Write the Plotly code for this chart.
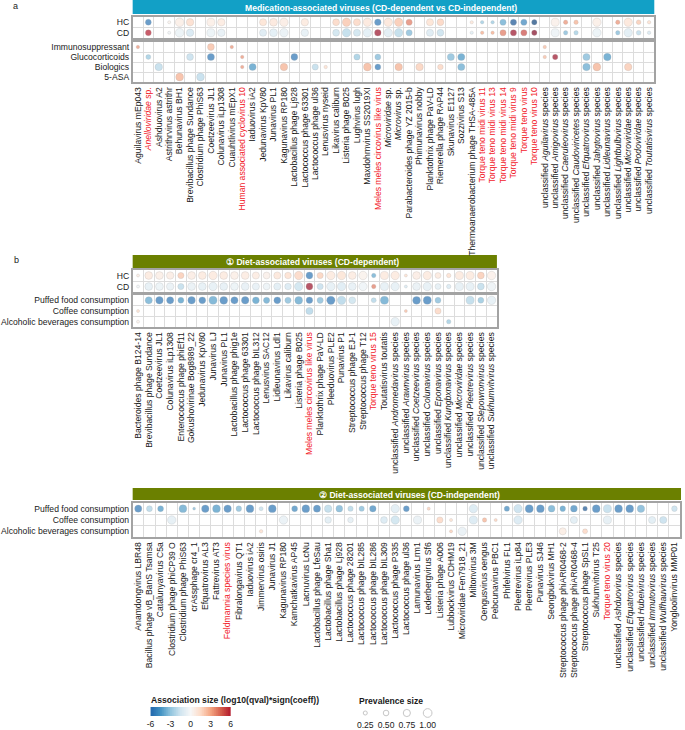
import numpy as np
import plotly.graph_objects as go

_ = None
W, H = 685, 730
FONT = "Liberation Sans, Arial, Helvetica, sans-serif"
TXT = "#1a1a1a"
RED = "#f2222b"
GRID = "#dcdcdc"
BORDER = "#a3a3a3"
TEAL = "#12a0c6"
OLIVE = "#6b8000"
FS = 8.6

# ---------------- Panel a : medication-associated viruses ----------------
a_viruses = [
    "Aguilavirus mEp043", "<i>Anelloviridae</i> sp.", "Ashduovirus A2", "Astrithrvirus astrithr", "Behunavirus BH1",
    "Brevibacillus phage Sundance", "Clostridium phage PhiS63", "Coetzeevirus JL1", "Colunavirus iLp1308", "Cuauhtlivirus mEpX1",
    "Human associated cyclovirus 10", "Iaduovirus iA2", "Jedunavirus KpV80", "Junavirus PL1", "Kagunavirus RP180",
    "Lactobacillus phage Lj928", "Lactococcus phage 63301", "Lactococcus phage ul36", "Lenusvirus nyseid", "Likavirus caliburn",
    "Listeria phage B025", "Lughvirus lugh", "Maxdohrnvirus SS2019XI", "Meles meles circovirus like virus", "<i>Microviridae</i> sp.",
    "<i>Microvirus</i> sp.", "Parabacteroides phage YZ 2015-b", "Phimunavirus nobby", "Planktothrix phage PaV-LD", "Riemerella phage RAP44",
    "Skunavirus E1127", "Sozzivirus S13", "Thermoanaerobacterium phage THSA-485A", "Torque teno midi virus 11", "Torque teno midi virus 13",
    "Torque teno midi virus 14", "Torque teno midi virus 9", "Torque teno virus", "Torque teno virus 10", "unclassified <i>Aguilavirus</i> species",
    "unclassified <i>Amigovirus</i> species", "unclassified <i>Caeruleovirus</i> species", "unclassified <i>Caudoviricetes</i> species",
    "unclassified <i>Efquatrovirus</i> species", "unclassified <i>Jahgtovirus</i> species", "unclassified <i>Lidleunavirus</i> species",
    "unclassified <i>Lightbulbvirus</i> species", "unclassified <i>Microviridae</i> species", "unclassified <i>Podoviridae</i> species",
    "unclassified <i>Toutatisvirus</i> species"]
a_red = {"<i>Anelloviridae</i> sp.", "Human associated cyclovirus 10", "Meles meles circovirus like virus",
         "Torque teno midi virus 11", "Torque teno midi virus 13", "Torque teno midi virus 14",
         "Torque teno midi virus 9", "Torque teno virus", "Torque teno virus 10"}
a_groups = ["HC", "CD"]
a_meds = ["Immunosuppressant", "Glucocorticoids", "Biologics", "5-ASA"]

a_hc = [_, -5.5, _, 0.4, 0.7, 1.6, _, 0.7, 0.9, _,
        _, _, 1.4, 1.1, 0.8, _, 1.0, _, _, 1.8,
        2.3, 1.8, 1.1, -5.5, 1.2, 2.3, 4.0, _, 1.4, 1.9,
        _, _, 1.2, -3.0, -3.0, -4.0, -6.5, -5.0, -7.0, _,
        0.6, 3.5, 2.8, _, 0.7, _, 3.5, 1.2, 2.2, 1.5]
a_cd = [_, 6.0, _, -0.4, -0.7, -1.6, _, -0.7, -0.9, _,
        _, _, -1.4, -1.1, -0.8, _, -1.0, _, _, -1.8,
        -2.3, -1.8, -1.1, 6.5, -1.2, -2.3, -3.5, _, -1.4, -1.9,
        _, _, -1.2, 3.0, 3.0, 4.0, 6.5, 5.0, 7.0, _,
        -0.6, -3.5, -2.8, _, -0.7, _, -3.5, -1.2, -2.2, -1.5]
a_hccd_prev = [_, 0.55, _, 0.08, 1.0, 0.8, _, 0.9, 0.8, _,
               _, _, 0.75, 0.85, 0.95, _, 0.8, _, _, 0.7,
               0.95, 0.75, 0.95, 0.65, 0.95, 0.95, 0.6, _, 0.75, 0.7,
               _, _, 0.12, 0.15, 0.15, 0.6, 0.6, 0.6, 0.45, _,
               0.9, 0.3, 0.3, _, 0.95, _, 0.3, 0.95, 0.35, 0.15]

a_immuno = [3.5, _, _, _, _, _, _, 2.5, _, 3.5,
            _, _, _, _, _, _, _, _, _, _,
            _, _, _, _, _, _, _, _, _, _,
            _, _, _, _, _, _, _, _, _, 2.5,
            _, _, _, _, _, _, _, _, _, _]
a_immuno_prev = [0.15, _, _, _, _, _, _, 0.7, _, 0.15,
                 _, _, _, _, _, _, _, _, _, _,
                 _, _, _, _, _, _, _, _, _, _,
                 _, _, _, _, _, _, _, _, _, 0.15,
                 _, _, _, _, _, _, _, _, _, _]
a_gluco = [_, -3.0, _, _, _, -2.0, _, -5.5, _, _,
           3.5, _, _, _, _, -5.5, _, _, _, _,
           _, -3.0, _, -3.5, _, _, _, _, _, _,
           -3.5, -4.5, _, _, _, _, _, _, _, 2.5,
           6.5, _, _, -3.5, _, -4.5, _, _, _, _]
a_gluco_prev = [_, 0.4, _, _, _, 0.7, _, 0.75, _, _,
                0.15, _, _, _, _, 0.7, _, _, _, _,
                _, 0.6, _, 0.55, _, _, _, _, _, _,
                0.75, 0.75, _, _, _, _, _, _, _, 0.15,
                0.45, _, _, 0.75, _, 0.8, _, _, _, _]
a_bio = [_, _, -2.2, _, _, _, _, _, _, _,
         3.5, -4.5, _, _, 2.8, _, _, -2.2, 1.5, _,
         _, _, 2.8, -5.5, _, 2.8, _, 2.0, _, 1.8,
         _, -4.0, _, _, _, _, _, _, _, _,
         _, _, _, -4.0, 2.8, _, _, 2.2, _, _]
a_bio_prev = [_, _, 0.8, _, _, _, _, _, _, _,
              0.15, 0.75, _, _, 0.8, _, _, 0.6, 0.15, _,
              _, _, 0.85, 0.55, _, 0.8, _, 0.8, _, 0.5,
              _, 0.75, _, _, _, _, _, _, _, _,
              _, _, _, 0.8, 0.85, _, _, 0.8, _, _]
a_asa = [_, _, _, _, 2.8, _, -2.2, _, _, _] + [_] * 40
a_asa_prev = [_, _, _, _, 0.85, _, 0.85, _, _, _] + [_] * 40

# ---------------- Panel b1 : diet-associated (CD-dependent) ----------------
b1_viruses = [
    "Bacteroides phage B124-14", "Brevibacillus phage Sundance", "Coetzeevirus JL1", "Colunavirus iLp1308",
    "Enterococcus phage phiEf11", "Gokushovirinae Bog8989_22", "Jedunavirus KpV80", "Junavirus LJ", "Junavirus PL1",
    "Lactobacillus phage phig1e", "Lactococcus phage 63301", "Lactococcus phage bIL312", "Lenusvirus SAC12",
    "Lidleunavirus Ldl1", "Likavirus caliburn", "Listeria phage B025", "Meles meles circovirus like virus",
    "Planktothrix phage PaV-LD", "Pleeduovirus PLE2", "Punavirus P1", "Streptococcus phage EJ-1",
    "Streptococcus phage T12", "Torque teno virus 15", "Toutatisvirus toutatis",
    "unclassified <i>Andromedavirus</i> species", "unclassified <i>Arawnvirus</i> species",
    "unclassified <i>Coetzeevirus</i> species", "unclassified <i>Colunavirus</i> species",
    "unclassified <i>Eponavirus</i> species", "unclassified <i>Kungbxnavirus</i> species",
    "unclassified <i>Microviridae</i> species", "unclassified <i>Pleetrevirus</i> species",
    "unclassified <i>Slepowronvirus</i> species", "unclassified <i>Sukhumvitvirus</i> species"]
b1_red = {"Meles meles circovirus like virus", "Torque teno virus 15"}
diet_rows = ["Puffed food consumption", "Coffee consumption", "Alcoholic beverages consumption"]

b1_hc = [0.8, 1.0, 0.7, 0.8, 2.2, 0.8, 1.0, 1.0, 1.0, 0.7,
         0.9, 0.9, 0.6, 1.2, 1.5, 1.8, -5.5, 2.0, 1.0, 1.3,
         0.9, 0.5, -4.0, 1.0, 1.0, 1.5, 0.8, 1.0, 1.0, 1.5,
         1.0, 1.0, 2.2, 0.6]
b1_cd = [-0.3, -1.0, -0.7, -0.8, -2.2, -0.8, -1.0, -1.0, -1.0, -0.7,
         -0.9, -0.9, -0.6, -1.2, -1.5, -1.8, 6.5, -2.0, -1.0, -1.3,
         -0.9, -0.5, 4.0, -1.0, -1.0, -1.5, -0.8, -1.0, -1.0, -1.5,
         -1.0, -1.0, -2.2, -0.6]
b1_hccd_prev = [0.08, 0.85, 0.85, 0.8, 0.6, 0.85, 0.85, 0.95, 0.85, 0.85,
                0.85, 0.75, 0.7, 0.75, 0.65, 0.95, 0.7, 0.6, 0.95, 0.95,
                0.85, 0.95, 0.3, 0.9, 0.95, 0.08, 0.85, 0.95, 0.55, 0.3,
                0.9, 0.9, 0.7, 0.95]
b1_puffed = [_, -4.0, -5.5, -5.5, -4.5, -5.5, -5.5, -4.2, -5.5, -5.5,
             -5.5, -4.5, -4.2, -5.5, -3.5, -4.2, -5.5, -3.5, -5.5, -2.5,
             -1.8, _, -2.5, -4.2, _, _, -5.5, -5.5, -3.5, _,
             _, -2.3, -3.2, -1.0]
b1_puffed_prev = [_, 0.75, 0.8, 0.75, 0.55, 0.8, 0.7, 0.9, 0.85, 0.75,
                  0.8, 0.7, 0.6, 0.7, 0.6, 0.85, 0.65, 0.6, 0.95, 0.95,
                  0.7, _, 0.4, 0.9, _, _, 0.85, 0.9, 0.55, _,
                  _, 0.9, 0.55, 0.95]
b1_coffee = [1.5, _, _, _, _, _, _, _, _, _,
             _, _, _, _, _, _, -2.5, _, _, _,
             _, _, _, _, _, 2.5, _, _, 1.8, _,
             _, _, _, _]
b1_coffee_prev = [0.08, _, _, _, _, _, _, _, _, _,
                  _, _, _, _, _, _, 0.75, _, _, _,
                  _, _, _, _, _, 0.08, _, _, 0.6, _,
                  _, _, _, _]
b1_alcohol = [0.5, _, _, _, _, _, _, _, _, _,
              _, _, _, _, _, _, _, _, _, _,
              _, _, _, _, -1.0, _, _, _, _, -3.0,
              _, _, _, _]
b1_alcohol_prev = [0.08, _, _, _, _, _, _, _, _, _,
                   _, _, _, _, _, _, _, _, _, _,
                   _, _, _, _, 0.95, _, _, _, _, 0.3,
                   _, _, _, _]

# ---------------- Panel b2 : diet-associated (CD-independent) ----------------
b2_viruses = [
    "Anamdongvirus LBR48", "Bacillus phage vB_BanS Tsamsa", "Catalunyavirus C5a", "Clostridium phage phiCP39 O",
    "Clostridium phage PhiS63", "crAssphage cr4_1", "Efquatrovirus AL3", "Fattrevirus AT3", "Feldmannia species virus",
    "Fibralongavirus QT1", "Iaduovirus iA2", "Jimmervirus osiris", "Junavirus J1", "Kagunavirus RP180",
    "Kamchatkavirus AP45", "Lacnuvirus LcNu", "Lactobacillus phage LfeSau", "Lactobacillus phage Sha1",
    "Lactobacillus phage Lj928", "Lactococcus phage 28201", "Lactococcus phage bIL285", "Lactococcus phage bIL286",
    "Lactococcus phage bIL309", "Lactococcus phage P335", "Lactococcus phage ul36", "Lamunavirus Lrm1",
    "Lederbergvirus Sf6", "Listeria phage A006", "Lubbockvirus CDHM19", "Microviridae Fen7918_21",
    "Miltonvirus 3M", "Oengusvirus oengus", "Pebcunavirus PBC1", "Phifelvirus FL1", "Pleetrevirus iLp84",
    "Pleetrevirus PLE3", "Punavirus SJ46", "Seongbukvirus MH1", "Streptococcus phage phiARI0468-2",
    "Streptococcus phage phiARI0468-4", "Streptococcus phage SpSL1", "Sukhumvitvirus T25", "Torque teno virus 20",
    "unclassified <i>Ashduovirus</i> species", "unclassified <i>Efquatrovirus</i> species",
    "unclassified <i>Hubeivirus</i> species", "unclassified <i>Immutovirus</i> species",
    "unclassified <i>Wulfhauvirus</i> species", "Yongloolinvirus MMP01"]
b2_red = {"Feldmannia species virus", "Torque teno virus 20"}

b2_puffed = [-5.5, -2.5, -4.5, _, -4.2, -3.5, -5.5, -4.5, -5.5, -3.5,
             -5.5, -2.0, -5.5, _, -5.0, -5.5, -5.5, -2.3, -3.8, -2.5,
             -3.5, -5.0, _, -1.2, -5.5, _, 2.0, _, _, _,
             -1.5, _, _, -5.0, -2.0, -5.5, -5.5, -4.0, -4.5, -5.0,
             -6.5, -5.5, -2.2, -5.5, -5.5, -3.8, _, _, -2.0]
b2_puffed_prev = [0.75, 0.55, 0.55, _, 0.85, 0.05, 0.8, 0.85, 0.8, 0.5,
                  0.85, 0.25, 0.85, _, 0.55, 0.85, 0.75, 0.8, 0.7, 0.45,
                  0.45, 0.65, _, 0.95, 0.55, _, 0.1, _, _, _,
                  0.95, _, _, 0.45, 0.95, 0.9, 0.85, 0.7, 0.5, 0.7,
                  0.35, 0.85, 0.9, 0.85, 0.85, 0.8, _, _, 0.5]
b2_coffee = [_, _, _, -1.0, _, _, _, _, _, _,
             _, _, _, -0.8, _, _, _, -1.2, _, -1.0,
             _, _, -1.5, -1.8, _, -0.8, _, 1.8, 1.5, _,
             -1.5, 2.8, 2.0, _, -1.5, _, _, _, _, -1.2,
             _, _, -1.0, _, _, _, -1.2, -2.0, _]
b2_coffee_prev = [_, _, _, 0.95, _, _, _, _, _, _,
                  _, _, _, 0.95, _, _, _, 0.65, _, 0.5,
                  _, _, 0.7, 0.95, _, 0.9, _, 0.6, 0.1, _,
                  0.9, 0.3, 0.1, _, 0.95, _, _, _, _, 0.75,
                  _, _, 0.9, _, _, _, 0.75, 0.75, _]
b2_alcohol = [_, _, _, _, _, _, _, _, _, _,
              _, 1.5, _, _, _, _, _, _, _, _,
              _, _, _, _, _, _, _, _, 2.0, -0.8,
              _, _, _, _, _, _, _, _, 0.8, _,
              1.8, _, _, _, _, _, _, _, _]
b2_alcohol_prev = [_, _, _, _, _, _, _, _, _, _,
                   _, 0.15, _, _, _, _, _, _, _, _,
                   _, _, _, _, _, _, _, _, 0.1, 0.95,
                   _, _, _, _, _, _, _, _, 0.75, _,
                   0.4, _, _, _, _, _, _, _, _]

# ---------------- legends ----------------
color_ticks = [-6, -3, 0, 3, 6]
size_legend = [0.25, 0.50, 0.75, 1.00]

RDBU = ["#053061", "#2166ac", "#4393c3", "#92c5de", "#d1e5f0", "#f7f7f7",
        "#fddbc7", "#f4a582", "#d6604d", "#b2182b", "#67001f"]
CSCALE = [[i / 10, c] for i, c in enumerate(RDBU)]
CMIN, CMAX = -7.5, 7.5


def msize(p):
    return 2.5 + 6.2 * p


def dx(x0, x1):
    return [x0 / W, x1 / W]


def dy(y0, y1):
    return [1 - y1 / H, 1 - y0 / H]


def fmt(labels, reds):
    return [f'<span style="color:{RED}">{l}</span>' if l in reds else l for l in labels]


fig = go.Figure()
layout = {}


def add_block(k, xdom, ydom, row_names, rows_vals, rows_prev, col_labels=None, reds=()):
    n = len(rows_vals[0])
    xs, ys, cs, ss = [], [], [], []
    for r, (vals, prevs) in enumerate(zip(rows_vals, rows_prev)):
        for c, (v, p) in enumerate(zip(vals, prevs)):
            if v is None:
                continue
            xs.append(c)
            ys.append(r)
            cs.append(v)
            ss.append(msize(p))
    sfx = "" if k == 1 else str(k)
    fig.add_trace(go.Scatter(
        x=xs, y=ys, mode="markers", xaxis="x" + sfx, yaxis="y" + sfx,
        marker=dict(color=cs, size=ss, colorscale=CSCALE, cmin=CMIN, cmax=CMAX,
                    line=dict(width=0.5, color="rgba(130,130,130,0.45)")),
        showlegend=False, hoverinfo="skip"))
    xa = dict(domain=dx(*xdom), range=[-0.5, n - 0.5], showgrid=False, zeroline=False,
              showline=True, mirror=True, linecolor=BORDER, linewidth=1.6, ticks="",
              anchor="y" + sfx,
              minor=dict(tickmode="array", tickvals=[i + 0.5 for i in range(n - 1)],
                         showgrid=True, gridcolor=GRID, gridwidth=1, ticks=""))
    if col_labels is not None:
        xa.update(tickmode="array", tickvals=list(range(n)), ticktext=fmt(col_labels, reds),
                  tickangle=-90, tickfont=dict(size=FS, color=TXT, family=FONT))
    else:
        xa.update(showticklabels=False)
    nr = len(row_names)
    ya = dict(domain=dy(*ydom), range=[nr - 0.5, -0.5], showgrid=False, zeroline=False,
              showline=True, mirror=True, linecolor=BORDER, linewidth=1.6, ticks="",
              anchor="x" + sfx, tickmode="array", tickvals=list(range(nr)), ticktext=row_names,
              tickfont=dict(size=FS, color=TXT, family=FONT),
              minor=dict(tickmode="array", tickvals=[i + 0.5 for i in range(nr - 1)],
                         showgrid=True, gridcolor=GRID, gridwidth=1, ticks=""))
    layout["xaxis" + sfx] = xa
    layout["yaxis" + sfx] = ya


add_block(1, (130, 657), (17, 38), a_groups, [a_hc, a_cd], [a_hccd_prev, a_hccd_prev])
add_block(2, (130, 657), (42, 82), a_meds, [a_immuno, a_gluco, a_bio, a_asa],
          [a_immuno_prev, a_gluco_prev, a_bio_prev, a_asa_prev], a_viruses, a_red)
add_block(3, (130, 498), (270, 292), a_groups, [b1_hc, b1_cd], [b1_hccd_prev, b1_hccd_prev])
add_block(4, (130, 498), (295, 327), diet_rows, [b1_puffed, b1_coffee, b1_alcohol],
          [b1_puffed_prev, b1_coffee_prev, b1_alcohol_prev], b1_viruses, b1_red)
add_block(5, (130, 683), (503, 537), diet_rows, [b2_puffed, b2_coffee, b2_alcohol],
          [b2_puffed_prev, b2_coffee_prev, b2_alcohol_prev], b2_viruses, b2_red)

# colour legend (gradient drawn as a heatmap on its own axis)
grad = np.linspace(color_ticks[0], color_ticks[-1], 121)
fig.add_trace(go.Heatmap(x=grad, y=[0], z=[grad], colorscale=CSCALE, zmin=CMIN, zmax=CMAX,
                         showscale=False, hoverinfo="skip", xaxis="x6", yaxis="y6"))
layout["xaxis6"] = dict(domain=dx(148, 229), range=[color_ticks[0], color_ticks[-1]], anchor="y6",
                        tickmode="array", tickvals=color_ticks, ticktext=[str(t) for t in color_ticks],
                        ticks="", showgrid=False, zeroline=False, showline=False, ticklabelstandoff=1,
                        tickfont=dict(size=FS, color=TXT, family=FONT))
layout["yaxis6"] = dict(domain=dy(707, 716), range=[-0.5, 0.5], anchor="x6", visible=False)

# prevalence legend
fig.add_trace(go.Scatter(x=list(range(len(size_legend))), y=[0] * len(size_legend), mode="markers",
                         marker=dict(size=[msize(p) for p in size_legend], color="white",
                                     line=dict(width=1, color="#b0b0b0")),
                         showlegend=False, hoverinfo="skip", xaxis="x7", yaxis="y7"))
layout["xaxis7"] = dict(domain=dx(354.5, 438.5), range=[-0.5, len(size_legend) - 0.5], anchor="y7",
                        tickmode="array", tickvals=list(range(len(size_legend))),
                        ticktext=[f"{p:.2f}" for p in size_legend], ticks="", showgrid=False,
                        zeroline=False, showline=False, ticklabelstandoff=0,
                        tickfont=dict(size=FS, color=TXT, family=FONT))
layout["yaxis7"] = dict(domain=dy(708, 718), range=[-0.5, 0.5], anchor="x7", visible=False)

shapes = [
    dict(type="rect", xref="paper", yref="paper", x0=130 / W, x1=657 / W, y0=1 - 14 / H, y1=1,
         fillcolor=TEAL, line=dict(width=0), layer="below"),
    dict(type="rect", xref="paper", yref="paper", x0=130 / W, x1=498 / W, y0=1 - 268 / H, y1=1 - 255 / H,
         fillcolor=OLIVE, line=dict(width=0), layer="below"),
    dict(type="rect", xref="paper", yref="paper", x0=130 / W, x1=684 / W, y0=1 - 500 / H, y1=1 - 488 / H,
         fillcolor=OLIVE, line=dict(width=0), layer="below"),
]


def ann(text, x, y, size=FS, color=TXT, bold=False, xanchor="center"):
    return dict(text=f"<b>{text}</b>" if bold else text, x=x / W, y=1 - y / H, xref="paper", yref="paper",
                showarrow=False, xanchor=xanchor, yanchor="middle",
                font=dict(size=size, color=color, family=FONT))


annotations = [
    ann("a", 12, 6, size=9),
    ann("b", 13, 260, size=9),
    ann("Medication-associated viruses (CD-dependent vs CD-independent)", 381, 7.5, color="white", bold=True),
    ann("\u2460 Diet-associated viruses (CD-dependent)", 312, 262, color="white", bold=True),
    ann("\u2461 Diet-associated viruses (CD-independent)", 410, 494.5, color="white", bold=True),
    ann("Association size (log10(qval)*sign(coeff))", 147, 700, bold=True, xanchor="left"),
    ann("Prevalence size", 357, 701, bold=True, xanchor="left"),
]

fig.update_layout(width=W, height=H, margin=dict(l=0, r=0, t=0, b=0),
                  paper_bgcolor="white", plot_bgcolor="white",
                  font=dict(family=FONT, size=FS, color=TXT),
                  shapes=shapes, annotations=annotations, **layout)

fig.write_html("out.html", config={"displayModeBar": False},
               post_script="document.body.style.margin='0px';document.body.style.overflow='hidden';")
